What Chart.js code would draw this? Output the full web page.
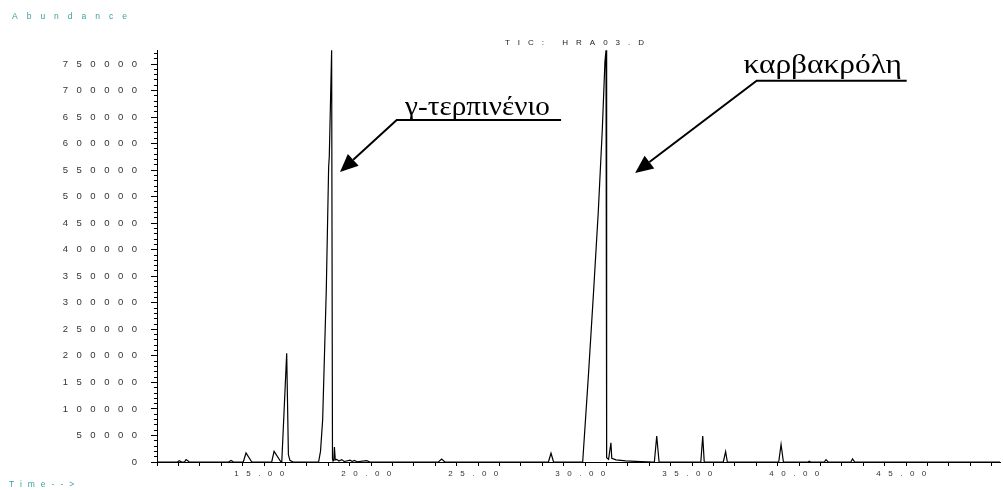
<!DOCTYPE html>
<html>
<head>
<meta charset="utf-8">
<script src="https://cdn.jsdelivr.net/npm/chart.js@4.4.1/dist/chart.umd.min.js"></script>
<style>
  body { margin: 0; background: #fff; }
  canvas { display: block; }
</style>
</head>
<body>
<canvas id="tic" width="1003" height="490"></canvas>
<script>
// TIC trace: retention time (min) and abundance
const times = [
  10.00, 10.95, 11.04, 11.15, 11.28, 11.36, 11.50, 11.65, 13.35, 13.46, 13.56,
  14.03, 14.16, 14.43, 15.36, 15.47, 15.78, 15.83, 16.06, 16.14, 16.21, 16.36,
  17.55, 17.64, 17.74, 17.91, 18.02, 18.05, 18.16, 18.20, 18.22, 18.26, 18.29, 18.33,
  18.40, 18.50, 18.63, 18.75, 19.02, 19.12, 19.22, 19.35, 19.80, 19.95,
  23.15, 23.30, 23.45, 28.29, 28.41, 28.53,
  29.89, 30.15, 30.39, 30.62, 30.81, 30.93, 30.98, 31.01, 31.10, 31.21, 31.25,
  31.45, 31.90, 32.60, 33.20,
  33.24, 33.35, 33.46, 35.41, 35.50, 35.57, 36.46, 36.57, 36.65,
  39.05, 39.16, 39.27, 40.42, 40.48, 40.54, 41.18, 41.26, 41.36,
  42.42, 42.50, 42.60, 49.40
];
const abundance = [
  0, 0, 2500, 0, 0, 4500, 500, 0, 0, 3000, 500,
  0, 17000, 0, 0, 20000, 1000, 0, 205000, 14000, 3000, 0,
  0, 20000, 79000, 324000, 556000, 575000, 776000, 6000, 3000, 3000, 28000, 4000,
  5000, 2000, 4500, 1000, 3500, 1000, 3000, 500, 2500, 0,
  0, 5500, 0, 0, 16500, 0,
  0, 158000, 315000, 472000, 629000, 754000, 776000, 8000, 5000, 36000, 7000,
  4000, 2000, 700, 0,
  0, 49000, 0, 0, 49000, 0, 0, 19500, 0,
  0, 33000, 0, 0, 1500, 0, 0, 4500, 0,
  0, 6000, 0, 0
];

// axis tick labels
const timeLabels = [15, 20, 25, 30, 35, 40, 45];
const abundanceLabels = [0, 50000, 100000, 150000, 200000, 250000, 300000, 350000,
  400000, 450000, 500000, 550000, 600000, 650000, 700000, 750000];

// compound names for the two main peaks
const peakNames = ['γ-τερπινένιο', 'καρβακρόλη'];

// arrows in data units: tip, underline start/end + level, text left/right + baseline
const notes = [
  { text: peakNames[0], tip: [18.55, 546600], line: [21.20, 28.88, 644600], label: [21.59, 28.36, 654000] },
  { text: peakNames[1], tip: [32.34, 544700], line: [38.02, 45.03, 718600], label: [37.40, 44.81, 732600] }
];

const points = times.map((t, i) => ({ x: t, y: abundance[i] }));
const teal = 'rgb(58,160,162)';
const spacing = { x: '7.5px', y: '8.5px' };

// minor ticks every 10000 on the abundance axis
const yTicks = [];
for (let v = 0; v <= 770000; v += 10000) yTicks.push({ value: v });

const spacedText = {
  id: 'spacedText',
  beforeDraw(chart) {
    chart.ctx.letterSpacing = '8px'; // title
    ['x', 'y'].forEach(id => {
      const s = chart.scales[id];
      if (s._spaced) return;
      const orig = s.drawLabels;
      s.drawLabels = function (area) {
        const prev = this.ctx.letterSpacing;
        this.ctx.letterSpacing = spacing[id];
        orig.call(this, area);
        this.ctx.letterSpacing = prev;
      };
      s._spaced = true;
    });
  },
  afterDraw(chart) {
    const { ctx, scales: { x, y } } = chart;
    ctx.save();
    ctx.letterSpacing = '0px';
    ctx.strokeStyle = '#000';
    ctx.fillStyle = '#000';
    ctx.lineWidth = 2;
    notes.forEach(n => {
      const tx = x.getPixelForValue(n.tip[0]), ty = y.getPixelForValue(n.tip[1]);
      const ux1 = x.getPixelForValue(n.line[0]), ux2 = x.getPixelForValue(n.line[1]);
      const uy = y.getPixelForValue(n.line[2]);
      ctx.beginPath();
      ctx.moveTo(ux2, uy);
      ctx.lineTo(ux1, uy);
      const ang = Math.atan2(ty - uy, tx - ux1);
      const head = 18, half = 8;
      const bx = tx - head * Math.cos(ang), by = ty - head * Math.sin(ang);
      ctx.lineTo(bx, by);
      ctx.stroke();
      ctx.beginPath();
      ctx.moveTo(tx, ty);
      ctx.lineTo(bx + half * Math.sin(ang), by - half * Math.cos(ang));
      ctx.lineTo(bx - half * Math.sin(ang), by + half * Math.cos(ang));
      ctx.closePath();
      ctx.fill();

      // name, stretched to the width it has in the original figure
      ctx.font = '27px "Liberation Serif"';
      ctx.textBaseline = 'alphabetic';
      const lx = x.getPixelForValue(n.label[0]), rx = x.getPixelForValue(n.label[1]);
      const w = ctx.measureText(n.text).width;
      ctx.save();
      ctx.translate(lx, y.getPixelForValue(n.label[2]));
      ctx.scale((rx - lx) / w, 1);
      ctx.fillText(n.text, 0, 0);
      ctx.restore();
    });

    ctx.fillStyle = teal;
    ctx.font = '8.5px "Liberation Sans"';
    ctx.textBaseline = 'middle';
    ctx.letterSpacing = '9px';
    ctx.fillText('Abundance', 12, 17);
    ctx.letterSpacing = '6px';
    ctx.fillText('Time-->', 9, 485);
    ctx.restore();
  }
};

new Chart(document.getElementById('tic'), {
  type: 'line',
  data: {
    datasets: [{
      data: points,
      borderColor: '#000',
      borderWidth: 1.2,
      pointRadius: 0,
      fill: false,
      tension: 0
    }]
  },
  options: {
    responsive: false,
    animation: false,
    devicePixelRatio: 1,
    layout: { padding: { left: 0, right: 3, top: 0, bottom: 0 } },
    plugins: {
      legend: { display: false },
      tooltip: { enabled: false },
      title: {
        display: true,
        text: 'TIC: HRA03.D',
        fullSize: false,
        color: '#222',
        font: { family: 'Liberation Sans', size: 8, weight: 'normal' },
        padding: { top: 38, bottom: 2.4 }
      }
    },
    scales: {
      x: {
        type: 'linear',
        min: 10,
        max: 49.39,
        afterFit: s => { s.height = 28; },
        border: { display: true, color: '#000', width: 1 },
        grid: { drawOnChartArea: false, tickLength: 4, tickColor: '#000' },
        ticks: {
          stepSize: 1,
          autoSkip: false,
          includeBounds: false,
          maxRotation: 0,
          padding: 3,
          labelOffset: -1,
          color: '#333',
          font: { family: 'Liberation Sans', size: 8 },
          callback: v => timeLabels.includes(v) ? v.toFixed(2) : ''
        }
      },
      y: {
        min: 0,
        max: 776400,
        afterFit: s => { s.width = 157; },
        afterBuildTicks: s => { s.ticks = yTicks.map(t => ({ value: t.value })); },
        border: { display: true, color: '#000', width: 1 },
        grid: {
          drawOnChartArea: false,
          tickLength: 6,
          tickColor: '#000',
          tickBorderDash: c => (c.tick && c.tick.value % 50000) ? [3, 3] : [],
          tickBorderDashOffset: c => (c.tick && c.tick.value % 50000) ? 3 : 0
        },
        ticks: {
          autoSkip: false,
          padding: 5.5,
          color: '#333',
          font: { family: 'Liberation Sans', size: 9.5 },
          callback: v => abundanceLabels.includes(v) ? String(v) : ''
        }
      }
    }
  },
  plugins: [spacedText]
});
</script>
</body>
</html>
